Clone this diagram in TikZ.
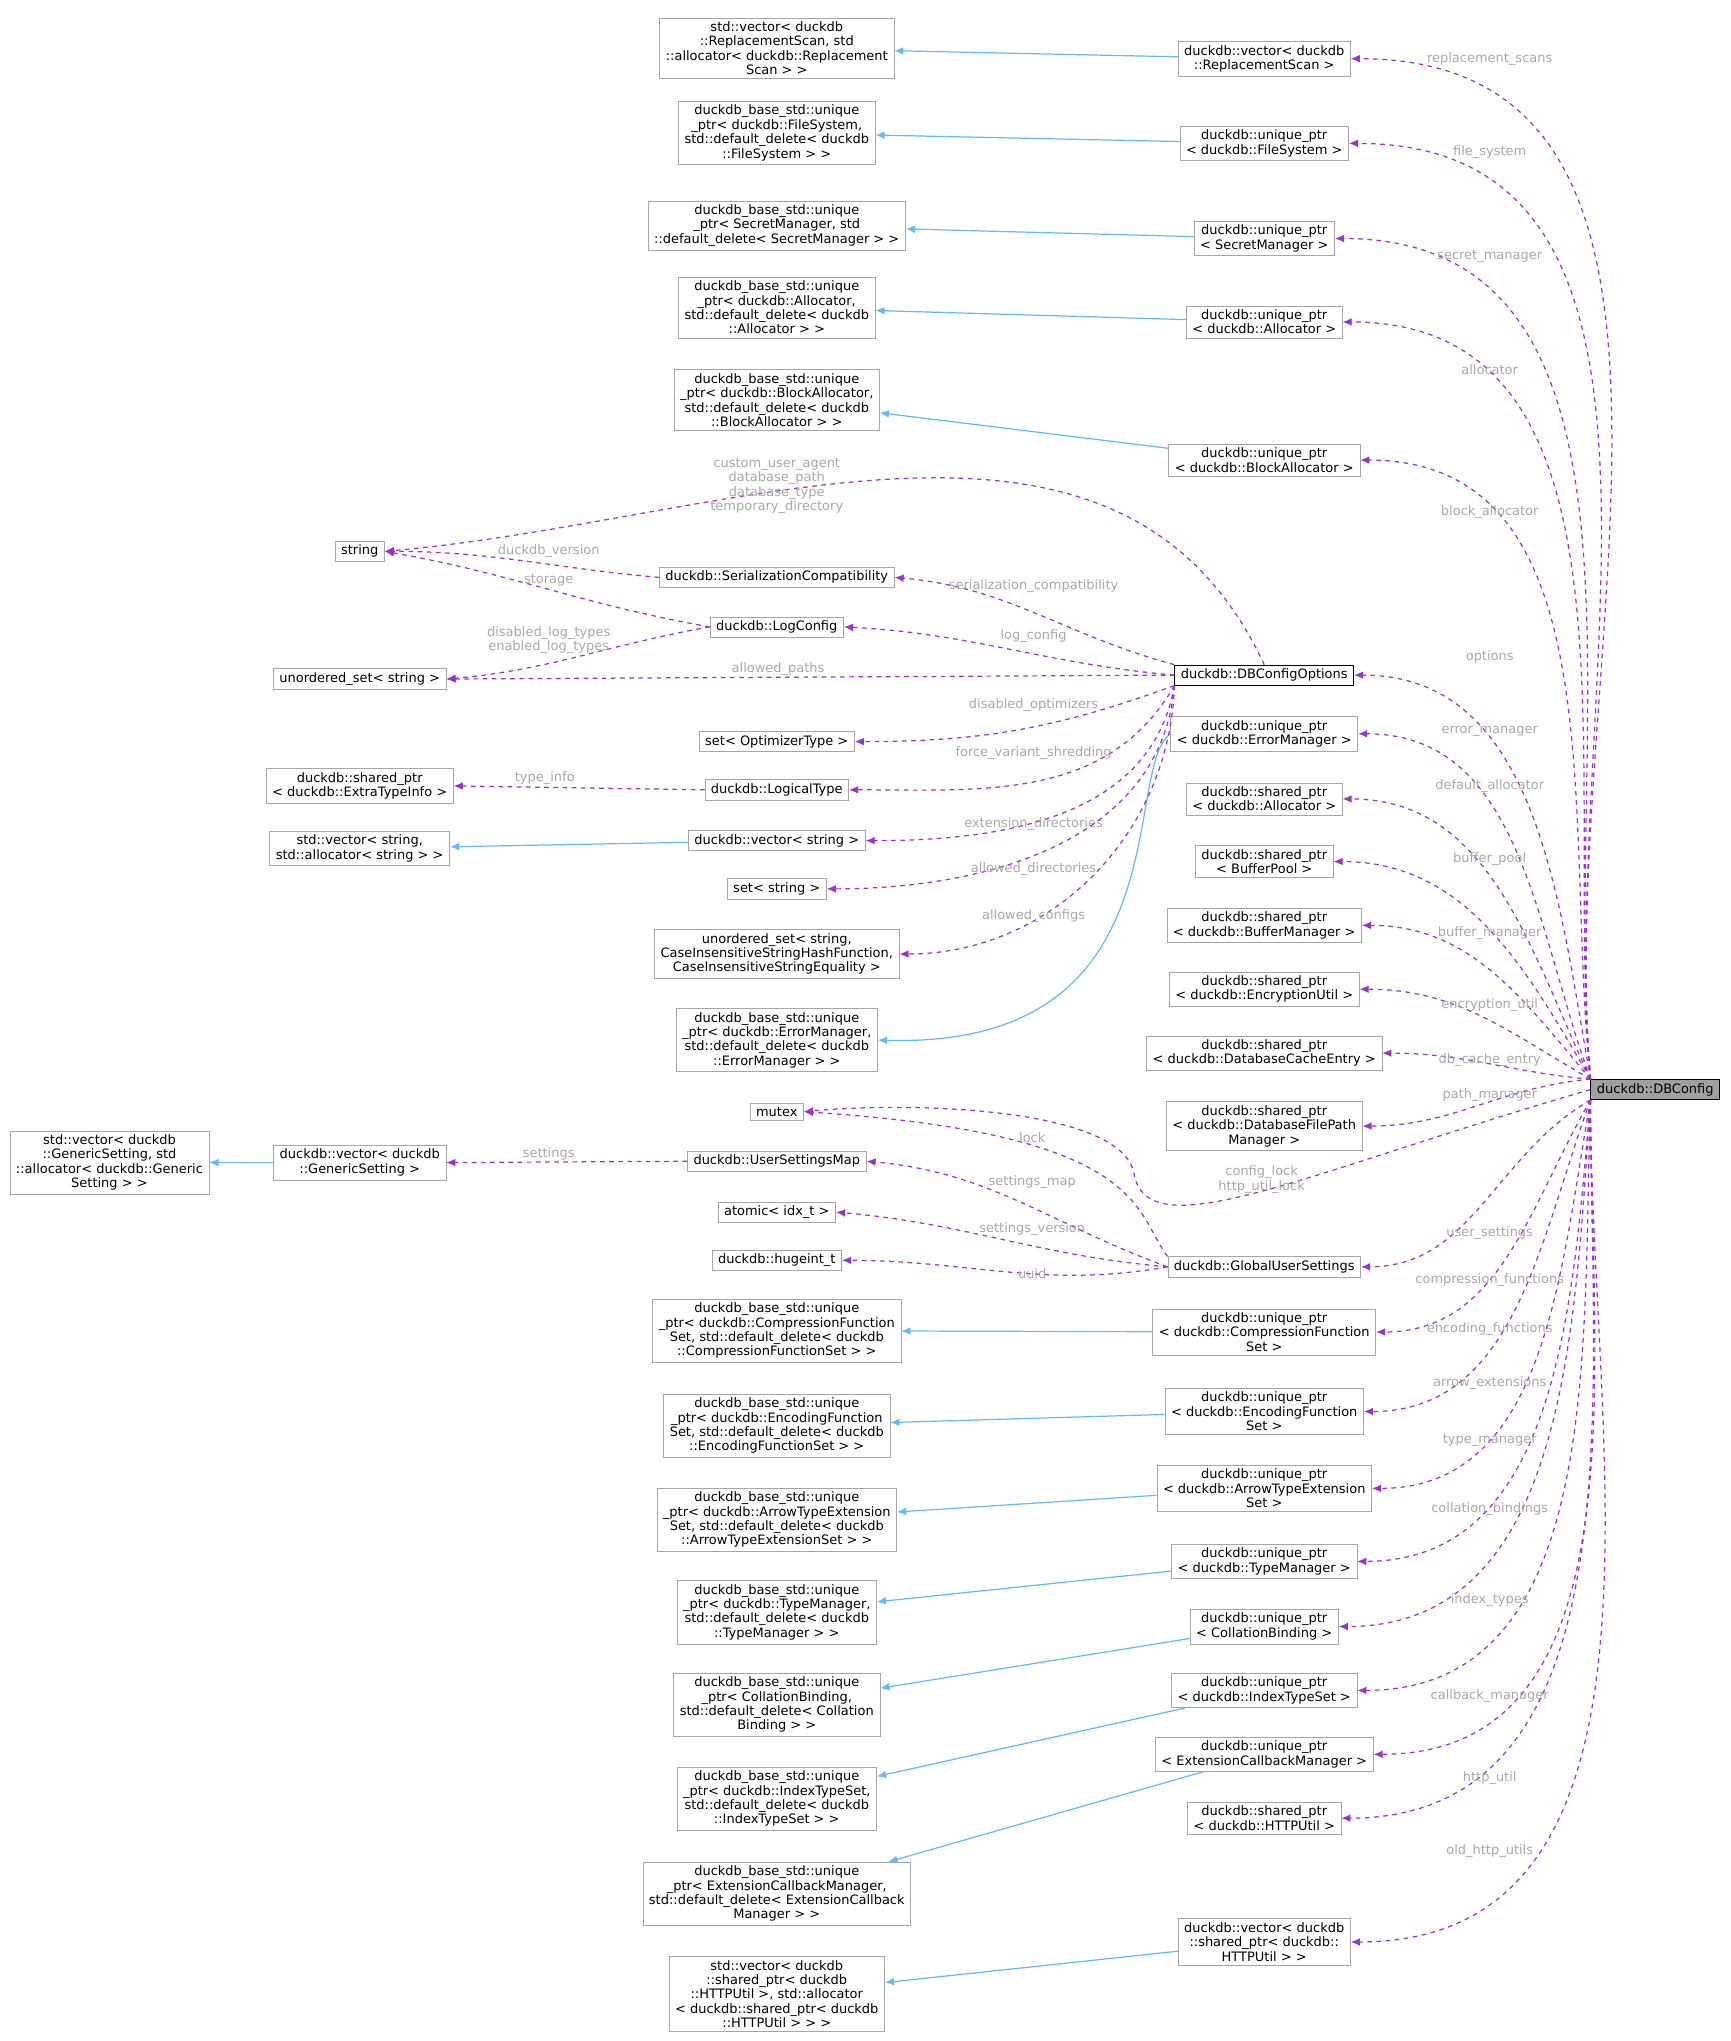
\documentclass[tikz,border=0pt]{standalone}
\usepackage{fontspec}
\setmainfont{DejaVu Sans}
\usetikzlibrary{arrows.meta,positioning}
\definecolor{inhblue}{HTML}{63B8FF}
\definecolor{usepurple}{HTML}{9A32CD}
\definecolor{lblgray}{HTML}{A8A8A8}
\tikzset{
  box/.style={draw=gray!70, fill=white, rectangle, align=center, inner xsep=4pt, inner ysep=2.5pt,
    font=\fontsize{8.5}{9.4}\selectfont},
  mainbox/.style={box, draw=black},
  inh/.style={draw=inhblue, thick, -{Latex[length=6pt,width=5pt]}},
  use/.style={draw=usepurple, thick, dashed, -{Latex[length=6pt,width=5pt]}},
  lbl/.style={text=lblgray, align=center, inner sep=0pt, font=\fontsize{8.5}{9.4}\selectfont}
}
\begin{document}
\begin{tikzpicture}[x=0.03cm, y=-0.03cm]
\useasboundingbox (0,0) rectangle (1328,1566);
% main class
\node[mainbox, fill=gray!75] (dbc) at (1270,836) {duckdb::DBConfig};
% member types
\node[box] (vecRS) at (970,45) {duckdb::vector< duckdb\\::ReplacementScan >};
\node[box] (upFS) at (970,110) {duckdb::unique\_ptr\\< duckdb::FileSystem >};
\node[box] (upSM) at (970,183) {duckdb::unique\_ptr\\< SecretManager >};
\node[box] (upAl) at (970,247) {duckdb::unique\_ptr\\< duckdb::Allocator >};
\node[box] (upBA) at (970,353) {duckdb::unique\_ptr\\< duckdb::BlockAllocator >};
\node[mainbox] (opts) at (970,518) {duckdb::DBConfigOptions};
\node[box] (upEM) at (970,563) {duckdb::unique\_ptr\\< duckdb::ErrorManager >};
\node[box] (spAl) at (970,613) {duckdb::shared\_ptr\\< duckdb::Allocator >};
\node[box] (spBP) at (970,661) {duckdb::shared\_ptr\\< BufferPool >};
\node[box] (spBM) at (970,710) {duckdb::shared\_ptr\\< duckdb::BufferManager >};
\node[box] (spEU) at (970,759) {duckdb::shared\_ptr\\< duckdb::EncryptionUtil >};
\node[box] (spDCE) at (970,808) {duckdb::shared\_ptr\\< duckdb::DatabaseCacheEntry >};
\node[box] (spDFP) at (970,864) {duckdb::shared\_ptr\\< duckdb::DatabaseFilePath\\Manager >};
\node[box] (gus) at (970,972) {duckdb::GlobalUserSettings};
\node[box] (upCF) at (970,1022) {duckdb::unique\_ptr\\< duckdb::CompressionFunction\\Set >};
\node[box] (upEF) at (970,1083) {duckdb::unique\_ptr\\< duckdb::EncodingFunction\\Set >};
\node[box] (upATE) at (970,1142) {duckdb::unique\_ptr\\< duckdb::ArrowTypeExtension\\Set >};
\node[box] (upTM) at (970,1198) {duckdb::unique\_ptr\\< duckdb::TypeManager >};
\node[box] (upCB) at (970,1248) {duckdb::unique\_ptr\\< CollationBinding >};
\node[box] (upIT) at (970,1297) {duckdb::unique\_ptr\\< duckdb::IndexTypeSet >};
\node[box] (upECM) at (970,1346) {duckdb::unique\_ptr\\< ExtensionCallbackManager >};
\node[box] (spHTTP) at (970,1395) {duckdb::shared\_ptr\\< duckdb::HTTPUtil >};
\node[box] (vecHTTP) at (970,1490) {duckdb::vector< duckdb\\::shared\_ptr< duckdb::\\HTTPUtil > >};
% base classes and option members
\node[box] (bRS) at (596,37) {std::vector< duckdb\\::ReplacementScan, std\\::allocator< duckdb::Replacement\\Scan > >};
\node[box] (bFS) at (596,102) {duckdb\_base\_std::unique\\\_ptr< duckdb::FileSystem,\\ std::default\_delete< duckdb\\::FileSystem > >};
\node[box] (bSM) at (596,173) {duckdb\_base\_std::unique\\\_ptr< SecretManager, std\\::default\_delete< SecretManager > >};
\node[box] (bAl) at (596,236) {duckdb\_base\_std::unique\\\_ptr< duckdb::Allocator,\\ std::default\_delete< duckdb\\::Allocator > >};
\node[box] (bBA) at (596,307) {duckdb\_base\_std::unique\\\_ptr< duckdb::BlockAllocator,\\ std::default\_delete< duckdb\\::BlockAllocator > >};
\node[box] (serc) at (596,443) {duckdb::SerializationCompatibility};
\node[box] (logc) at (596,481) {duckdb::LogConfig};
\node[box] (optT) at (596,569) {set< OptimizerType >};
\node[box] (ltype) at (596,606) {duckdb::LogicalType};
\node[box] (vecStr) at (596,645) {duckdb::vector< string >};
\node[box] (setStr) at (596,682) {set< string >};
\node[box] (uoCI) at (596,732) {unordered\_set< string,\\ CaseInsensitiveStringHashFunction,\\ CaseInsensitiveStringEquality >};
\node[box] (bEM) at (596,798) {duckdb\_base\_std::unique\\\_ptr< duckdb::ErrorManager,\\ std::default\_delete< duckdb\\::ErrorManager > >};
\node[box] (mutex) at (596,853) {mutex};
\node[box] (usm) at (596,891) {duckdb::UserSettingsMap};
\node[box] (atom) at (596,930) {atomic< idx\_t >};
\node[box] (huge) at (596,967) {duckdb::hugeint\_t};
\node[box] (bCF) at (596,1021) {duckdb\_base\_std::unique\\\_ptr< duckdb::CompressionFunction\\Set, std::default\_delete< duckdb\\::CompressionFunctionSet > >};
\node[box] (bEF) at (596,1094) {duckdb\_base\_std::unique\\\_ptr< duckdb::EncodingFunction\\Set, std::default\_delete< duckdb\\::EncodingFunctionSet > >};
\node[box] (bATE) at (596,1166) {duckdb\_base\_std::unique\\\_ptr< duckdb::ArrowTypeExtension\\Set, std::default\_delete< duckdb\\::ArrowTypeExtensionSet > >};
\node[box] (bTM) at (596,1237) {duckdb\_base\_std::unique\\\_ptr< duckdb::TypeManager,\\ std::default\_delete< duckdb\\::TypeManager > >};
\node[box] (bCB) at (596,1308) {duckdb\_base\_std::unique\\\_ptr< CollationBinding,\\ std::default\_delete< Collation\\Binding > >};
\node[box] (bIT) at (596,1380) {duckdb\_base\_std::unique\\\_ptr< duckdb::IndexTypeSet,\\ std::default\_delete< duckdb\\::IndexTypeSet > >};
\node[box] (bECM) at (596,1453) {duckdb\_base\_std::unique\\\_ptr< ExtensionCallbackManager,\\ std::default\_delete< ExtensionCallback\\Manager > >};
\node[box] (bHTTP) at (596,1530) {std::vector< duckdb\\::shared\_ptr< duckdb\\::HTTPUtil >, std::allocator\\< duckdb::shared\_ptr< duckdb\\::HTTPUtil > > >};
\node[box] (str) at (276,423) {string};
\node[box] (uoStr) at (276,521) {unordered\_set< string >};
\node[box] (spETI) at (276,603) {duckdb::shared\_ptr\\< duckdb::ExtraTypeInfo >};
\node[box] (svStr) at (276,651) {std::vector< string,\\ std::allocator< string > >};
\node[box] (vecGS) at (276,892) {duckdb::vector< duckdb\\::GenericSetting >};
\node[box] (bGS) at (84,892) {std::vector< duckdb\\::GenericSetting, std\\::allocator< duckdb::Generic\\Setting > >};
% inheritance
\foreach \d/\b in {vecRS/bRS, upFS/bFS, upSM/bSM, upAl/bAl, upBA/bBA, vecStr/svStr,
  vecGS/bGS, upCF/bCF, upEF/bEF, upATE/bATE, upTM/bTM, upCB/bCB, upIT/bIT,
  upECM/bECM, vecHTTP/bHTTP}
  \draw[inh] (\d) -- (\b);
\draw[inh] (upEM.west) .. controls (860,590) and (910,805) .. (bEM.east);
% members of DBConfig
\foreach \t/\o/\l/\ly in {vecRS/95/replacement\_scans/45, upFS/95/file\_system/117,
  upSM/95/secret\_manager/197, upAl/95/allocator/284, upBA/96/block\_allocator/393,
  opts/100/options/504, upEM/110/error\_manager/561, spAl/115/default\_allocator/603,
  spBP/120/buffer\_pool/659, spBM/130/buffer\_manager/716, spEU/150/encryption\_util/771,
  spDCE/175/db\_cache\_entry/813, spDFP/185/path\_manager/840}{
  \draw[use] (dbc.north west) to[out=\o, in=0] (\t.east);
  \node[lbl] at (1143,\ly) {\l};
}
\foreach \t/\o/\l/\ly in {gus/210/user\_settings/946, upCF/240/compression\_functions/982,
  upEF/250/encoding\_functions/1020, upATE/260/arrow\_extensions/1061,
  upTM/265/type\_manager/1105, upCB/266/collation\_bindings/1158,
  upIT/268/index\_types/1228, upECM/270/callback\_manager/1301,
  spHTTP/270/http\_util/1364, vecHTTP/270/old\_http\_utils/1420}{
  \draw[use] (dbc.south west) to[out=\o, in=0] (\t.east);
  \node[lbl] at (1143,\ly) {\l};
}
\draw[use] (dbc.west) .. controls (1000,900) and (880,960) .. (870,900)
  .. controls (860,850) and (700,845) .. (mutex.east);
\node[lbl] at (968,905) {config\_lock\\http\_util\_lock};
% members of DBConfigOptions
\draw[use] (opts.north) to[out=115, in=5] (str.east);
\node[lbl] at (596,373) {custom\_user\_agent\\database\_path\\database\_type\\temporary\_directory};
\draw[use] (opts.north west) to[out=165, in=-5] (serc.east);
\node[lbl] at (793,450) {serialization\_compatibility};
\draw[use] (opts.west) to[out=175, in=-3] (logc.east);
\node[lbl] at (793,488) {log\_config};
\draw[use] (opts.west) -- (uoStr.east);
\node[lbl] at (597,513) {allowed\_paths};
\draw[use] (opts.south west) to[out=200, in=0] (optT.east);
\node[lbl] at (793,541) {disabled\_optimizers};
\draw[use] (opts.south west) to[out=240, in=0] (ltype.east);
\node[lbl] at (793,578) {force\_variant\_shredding};
\draw[use] (opts.south west) to[out=260, in=0] (vecStr.east);
\node[lbl] at (793,632) {extension\_directories};
\draw[use] (opts.south west) to[out=265, in=0] (setStr.east);
\node[lbl] at (793,667) {allowed\_directories};
\draw[use] (opts.south west) to[out=268, in=0] (uoCI.east);
\node[lbl] at (793,703) {allowed\_configs};
% members of the small classes
\draw[use] (serc.west) to[out=175, in=0] (str.east);
\node[lbl] at (421,423) {duckdb\_version};
\draw[use] (logc.west) to[out=170, in=-10] (str.east);
\node[lbl] at (421,445) {storage};
\draw[use] (logc.west) to[out=190, in=5] (uoStr.east);
\node[lbl] at (421,491) {disabled\_log\_types\\enabled\_log\_types};
\draw[use] (ltype.west) -- (spETI.east);
\node[lbl] at (418,597) {type\_info};
\draw[use] (usm.west) -- (vecGS.east);
\node[lbl] at (421,885) {settings};
% members of GlobalUserSettings
\draw[use] (gus.north west) .. controls (870,930) and (880,870) .. (mutex.east);
\node[lbl] at (792,873) {lock};
\draw[use] (gus.west) to[out=160, in=-5] (usm.east);
\node[lbl] at (792,907) {settings\_map};
\draw[use] (gus.west) to[out=175, in=-5] (atom.east);
\node[lbl] at (792,943) {settings\_version};
\draw[use] (gus.west) to[out=190, in=0] (huge.east);
\node[lbl] at (792,977) {uuid};
\end{tikzpicture}
\end{document}
